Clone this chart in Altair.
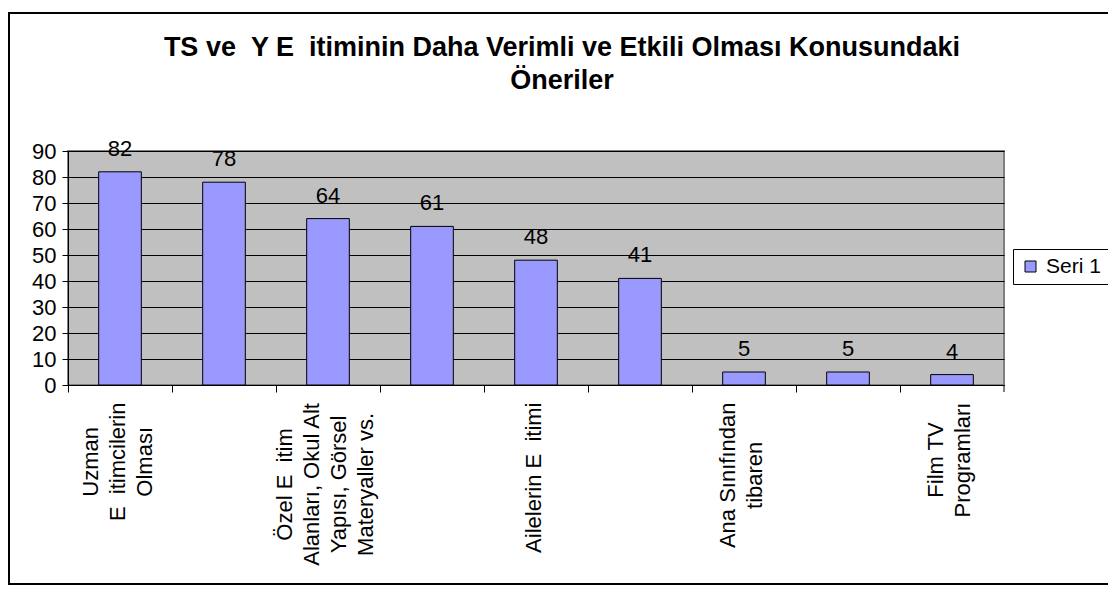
import json
import altair as alt
import pandas as pd

NB = "\u00a0\u00a0"  # blank where the original glyph was not rendered

# ---- data ----
title_lines = ["TS ve" + NB + "Y E" + NB + "itiminin Daha Verimli ve Etkili Olması Konusundaki", "Öneriler"]
category_labels = [
    "Uzman|E" + NB + "itimcilerin|Olması",
    "",
    "Özel E" + NB + "itim|Alanları, Okul Alt|Yapısı, Görsel|Materyaller vs.",
    "",
    "Ailelerin E" + NB + "itimi",
    "",
    "Ana Sınıfından|tibaren",
    "",
    "Film TV|Programları",
]
values = [82, 78, 64, 61, 48, 41, 5, 5, 4]
series_name = "Seri 1"
y_ticks = [0, 10, 20, 30, 40, 50, 60, 70, 80, 90]

df = pd.DataFrame({
    "idx": list(range(len(values))),
    "value": values,
    "series": [series_name] * len(values),
})

W, H = 936, 234
STEP = W / len(values)
FONT = "Liberation Sans"
FS = 22
LH = 27
TICK = 7

# approximate Arial advance widths (per 1000 em) to centre multi-line labels
_wid = dict(zip("ABCDEFGHIJKLMNOPQRSTUVWXYZ",
                [667, 667, 722, 722, 667, 611, 778, 722, 278, 500, 667, 556, 833,
                 722, 778, 667, 778, 722, 667, 611, 722, 667, 944, 667, 667, 611]))
_wid.update(dict(zip("abcdefghijklmnopqrstuvwxyz",
                     [556, 556, 500, 556, 556, 278, 556, 556, 222, 222, 500, 222, 833,
                      556, 556, 556, 556, 333, 500, 278, 556, 500, 722, 500, 500, 500])))
_wid.update({" ": 278, "\u00a0": 278, ",": 278, ".": 278, "Ö": 778, "ö": 556, "ı": 278})


def text_w(s):
    return sum(_wid.get(c, 556) for c in s) * FS / 1000.0


pads, offs = [], []
for lab in category_labels:
    lines = lab.split("|") if lab else [""]
    maxw = max(text_w(l) for l in lines)
    pads.append(round(10 + maxw / 2, 1))
    offs.append(round(STEP / 2 - (len(lines) - 1) * LH / 2 - 3, 1))

label_expr = "split(" + json.dumps(category_labels) + "[datum.value], '|')"

x_enc = alt.X(
    "idx:O",
    scale=alt.Scale(paddingInner=0.59, paddingOuter=0.295),
    axis=alt.Axis(
        title=None,
        labelExpr=label_expr,
        labelAngle=-90,
        labelAlign="center",
        labelBaseline="middle",
        labelLineHeight=LH,
        labelFontSize=FS,
        labelFont=FONT,
        labelColor="black",
        labelLimit=400,
        labelPadding=alt.ExprRef(json.dumps(pads) + "[datum.value]"),
        labelOffset=alt.ExprRef(json.dumps(offs) + "[datum.value]"),
        tickOffset=-STEP / 2,
        tickSize=TICK,
        tickColor="black",
        domainColor="black",
        labelOverlap=False,
    ),
)
y_enc = alt.Y(
    "value:Q",
    scale=alt.Scale(domain=[0, 90], nice=False),
    axis=alt.Axis(
        title=None,
        values=y_ticks,
        labelFontSize=FS,
        labelFont=FONT,
        labelColor="black",
        labelOverlap=False,
        tickSize=6,
        tickColor="black",
        domainColor="black",
        gridColor="black",
        gridWidth=1,
        labelPadding=6,
    ),
)

base = alt.Chart(df)

bars = base.mark_bar(stroke="black", strokeWidth=1).encode(
    x=x_enc,
    y=y_enc,
    color=alt.Color(
        "series:N",
        scale=alt.Scale(range=["#9999FF"]),
        legend=alt.Legend(title=None),
    ),
)

labels = base.mark_text(baseline="alphabetic", dy=-16, fontSize=FS, font=FONT, color="black").encode(
    x=x_enc,
    y=y_enc,
    text=alt.Text("value:Q"),
)

one = pd.DataFrame({"a": [0]})

last_tick = alt.Chart(one).mark_rule(color="black").encode(
    x=alt.value(W), y=alt.value(H), y2=alt.value(H + TICK)
)

title_text = alt.Chart(one).mark_text(
    font=FONT, fontSize=27, fontWeight="bold", color="black",
    align="center", baseline="middle", lineHeight=33,
).encode(
    x=alt.value(494), y=alt.value(-103), text=alt.value(title_lines)
)

frame = alt.Chart(one).mark_rect(
    fill=None, stroke="black", strokeWidth=2
).encode(
    x=alt.value(-59), x2=alt.value(1080), y=alt.value(-138), y2=alt.value(433)
)

chart = alt.layer(bars, labels, last_tick, title_text, frame).properties(
    width=W,
    height=H,
    autosize=alt.AutoSizeParams(type="none"),
    padding={"left": 60, "top": 143, "right": 104, "bottom": 202},
).configure_view(
    fill="#C0C0C0", stroke="#808080", strokeWidth=2
).configure_legend(
    orient="none",
    legendX=945,
    legendY=98,
    strokeColor="black",
    fillColor="white",
    padding=7,
    labelOffset=5,
    symbolType="square",
    symbolSize=121,
    symbolStrokeColor="black",
    symbolStrokeWidth=1,
    symbolFillColor="#9999FF",
    labelFontSize=21,
    labelFont=FONT,
    labelColor="black",
    cornerRadius=0,
)

chart.save("out.html", embed_options={"renderer": "svg", "actions": False})
